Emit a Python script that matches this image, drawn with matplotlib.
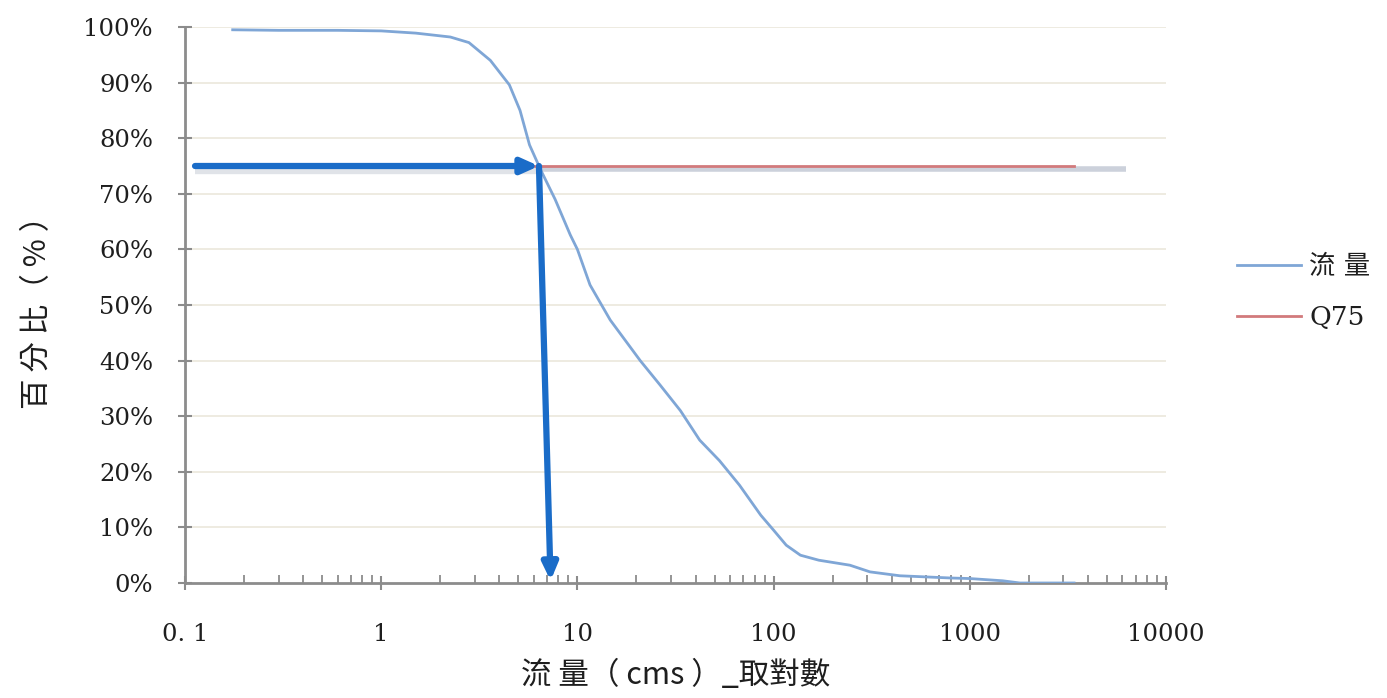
import matplotlib
matplotlib.use("Agg")
import matplotlib.pyplot as plt
import numpy as np
from matplotlib.ticker import FixedLocator, LogLocator, NullFormatter

# ---- data ----
flow_cms = [0.175, 0.3, 0.6, 1.0, 1.5, 2.25, 2.8, 3.6, 4.5, 5.1, 5.7, 6.5, 7.7, 9.2,
            10.0, 11.6, 14.7, 20.9, 26.4, 33.5, 42, 53, 67, 86, 100, 116, 137, 170,
            245, 310, 440, 800, 1000, 1470, 1800, 2900, 3400]
exceed_pct = [99.5, 99.4, 99.4, 99.3, 98.9, 98.2, 97.2, 94.0, 89.6, 85.0, 78.8, 74.3, 69.0, 62.6,
              60.0, 53.6, 47.3, 40.0, 35.6, 31.0, 25.7, 22.0, 17.6, 12.2, 9.5, 6.8, 5.0, 4.1,
              3.2, 2.0, 1.3, 0.9, 0.8, 0.4, 0.0, 0.0, 0.0]
q75_pct = 75.0
q75_label = "Q75"
series_label = "流 量"
arrow_start_x = 0.1125   # start of the horizontal annotation arrow
arrow_end_x = 7.3        # where the vertical annotation arrow meets the x axis
shadow_end_x = 6250
x_ticks = [0.1, 1, 10, 100, 1000, 10000]
x_tick_labels = ["0. 1", "1", "10", "100", "1000", "10000"]
y_ticks = list(range(0, 101, 10))

# ---- figure ----
fig = plt.figure(figsize=(13.87, 6.98), dpi=100)
ax = fig.add_axes([185/1387, 1-583/698, (1166-185)/1387, (583-27)/698])

num_font = ["DejaVu Serif", "Noto Sans CJK TC"]
cjk_font = ["Noto Sans CJK TC", "DejaVu Serif"]
leg_font = ["DejaVu Serif", "Noto Sans CJK TC"]

blue = "#7fa6d6"
red = "#d27a7c"
arrow_blue = "#1a6cc8"
text_color = "#1e1e1e"

ax.plot(flow_cms, exceed_pct, color=blue, lw=2.0, label=series_label, zorder=3)

# Q75 line across data range
ax.plot([flow_cms[0], flow_cms[-1]], [q75_pct, q75_pct], color=red, lw=2.0, label=q75_label, zorder=3)

# Intersection of curve with Q75 (interpolated in log-x)
lx = np.log10(flow_cms)
order = np.argsort(exceed_pct)
x_q75 = 10 ** np.interp(q75_pct, np.array(exceed_pct)[order], lx[order])

# Shadow band
ax.plot([x_q75, shadow_end_x], [q75_pct - 0.6, q75_pct - 0.6], color="#8e9bb0", lw=4, alpha=0.45,
        zorder=2, solid_capstyle="butt")
ax.plot([arrow_start_x, x_q75], [q75_pct - 0.7, q75_pct - 0.7], color="#9aa3b5", lw=6, alpha=0.3,
        zorder=2, solid_capstyle="butt")

# annotation arrows
ax.annotate("", xy=(x_q75, q75_pct), xytext=(arrow_start_x, q75_pct),
            arrowprops=dict(arrowstyle="-|>,head_length=1.0,head_width=0.45", color=arrow_blue,
                            lw=4.5, shrinkA=0, shrinkB=0), zorder=5, annotation_clip=False)
ax.annotate("", xy=(arrow_end_x, 0.4), xytext=(x_q75, q75_pct),
            arrowprops=dict(arrowstyle="-|>,head_length=1.0,head_width=0.45", color=arrow_blue,
                            lw=4.5, shrinkA=0, shrinkB=0), zorder=5, annotation_clip=False)

ax.set_xscale("log")
ax.set_xlim(0.1, 10000)
ax.set_ylim(0, 100)

# grid
for y in y_ticks[1:]:
    ax.axhline(y, color="#ebe8dc", lw=1.2, zorder=1)

for s in ["top", "right"]:
    ax.spines[s].set_visible(False)
for s in ["left", "bottom"]:
    ax.spines[s].set_color("#8c8c8c")
    ax.spines[s].set_linewidth(2.0)

ax.xaxis.set_major_locator(FixedLocator(x_ticks))
ax.xaxis.set_minor_locator(LogLocator(base=10, subs=np.arange(2, 10)))
ax.xaxis.set_minor_formatter(NullFormatter())
ax.set_xticks(x_ticks)
ax.set_xticklabels(x_tick_labels, fontfamily=num_font, fontsize=17.5, color=text_color)
ax.set_yticks(y_ticks)
ax.set_yticklabels([f"{v}%" for v in y_ticks], fontfamily=num_font, fontsize=17.5, color=text_color)

ax.tick_params(axis="both", which="major", direction="inout", length=10, width=1.5, color="#8c8c8c")
ax.tick_params(axis="x", which="minor", direction="in", length=6, width=1.3, color="#8c8c8c")
ax.tick_params(axis="x", which="major", pad=24)
ax.tick_params(axis="y", which="major", pad=18)

ax.set_xlabel("流 量（ cms ）_取對數", fontfamily=cjk_font, fontsize=22, labelpad=10,
              color=text_color)
ax.set_ylabel("百 分 比（ % ）", fontfamily=cjk_font, fontsize=22, labelpad=22, color=text_color)

leg = fig.legend(loc="center left", bbox_to_anchor=(1213/1387, 1-292/698), frameon=False,
                 prop=dict(family=leg_font, size=19), handlelength=2.45,
                 labelspacing=1.0, handletextpad=0.3, borderpad=0.4)
for t in leg.get_texts():
    t.set_color(text_color)

fig.savefig("out.png", dpi=100)
